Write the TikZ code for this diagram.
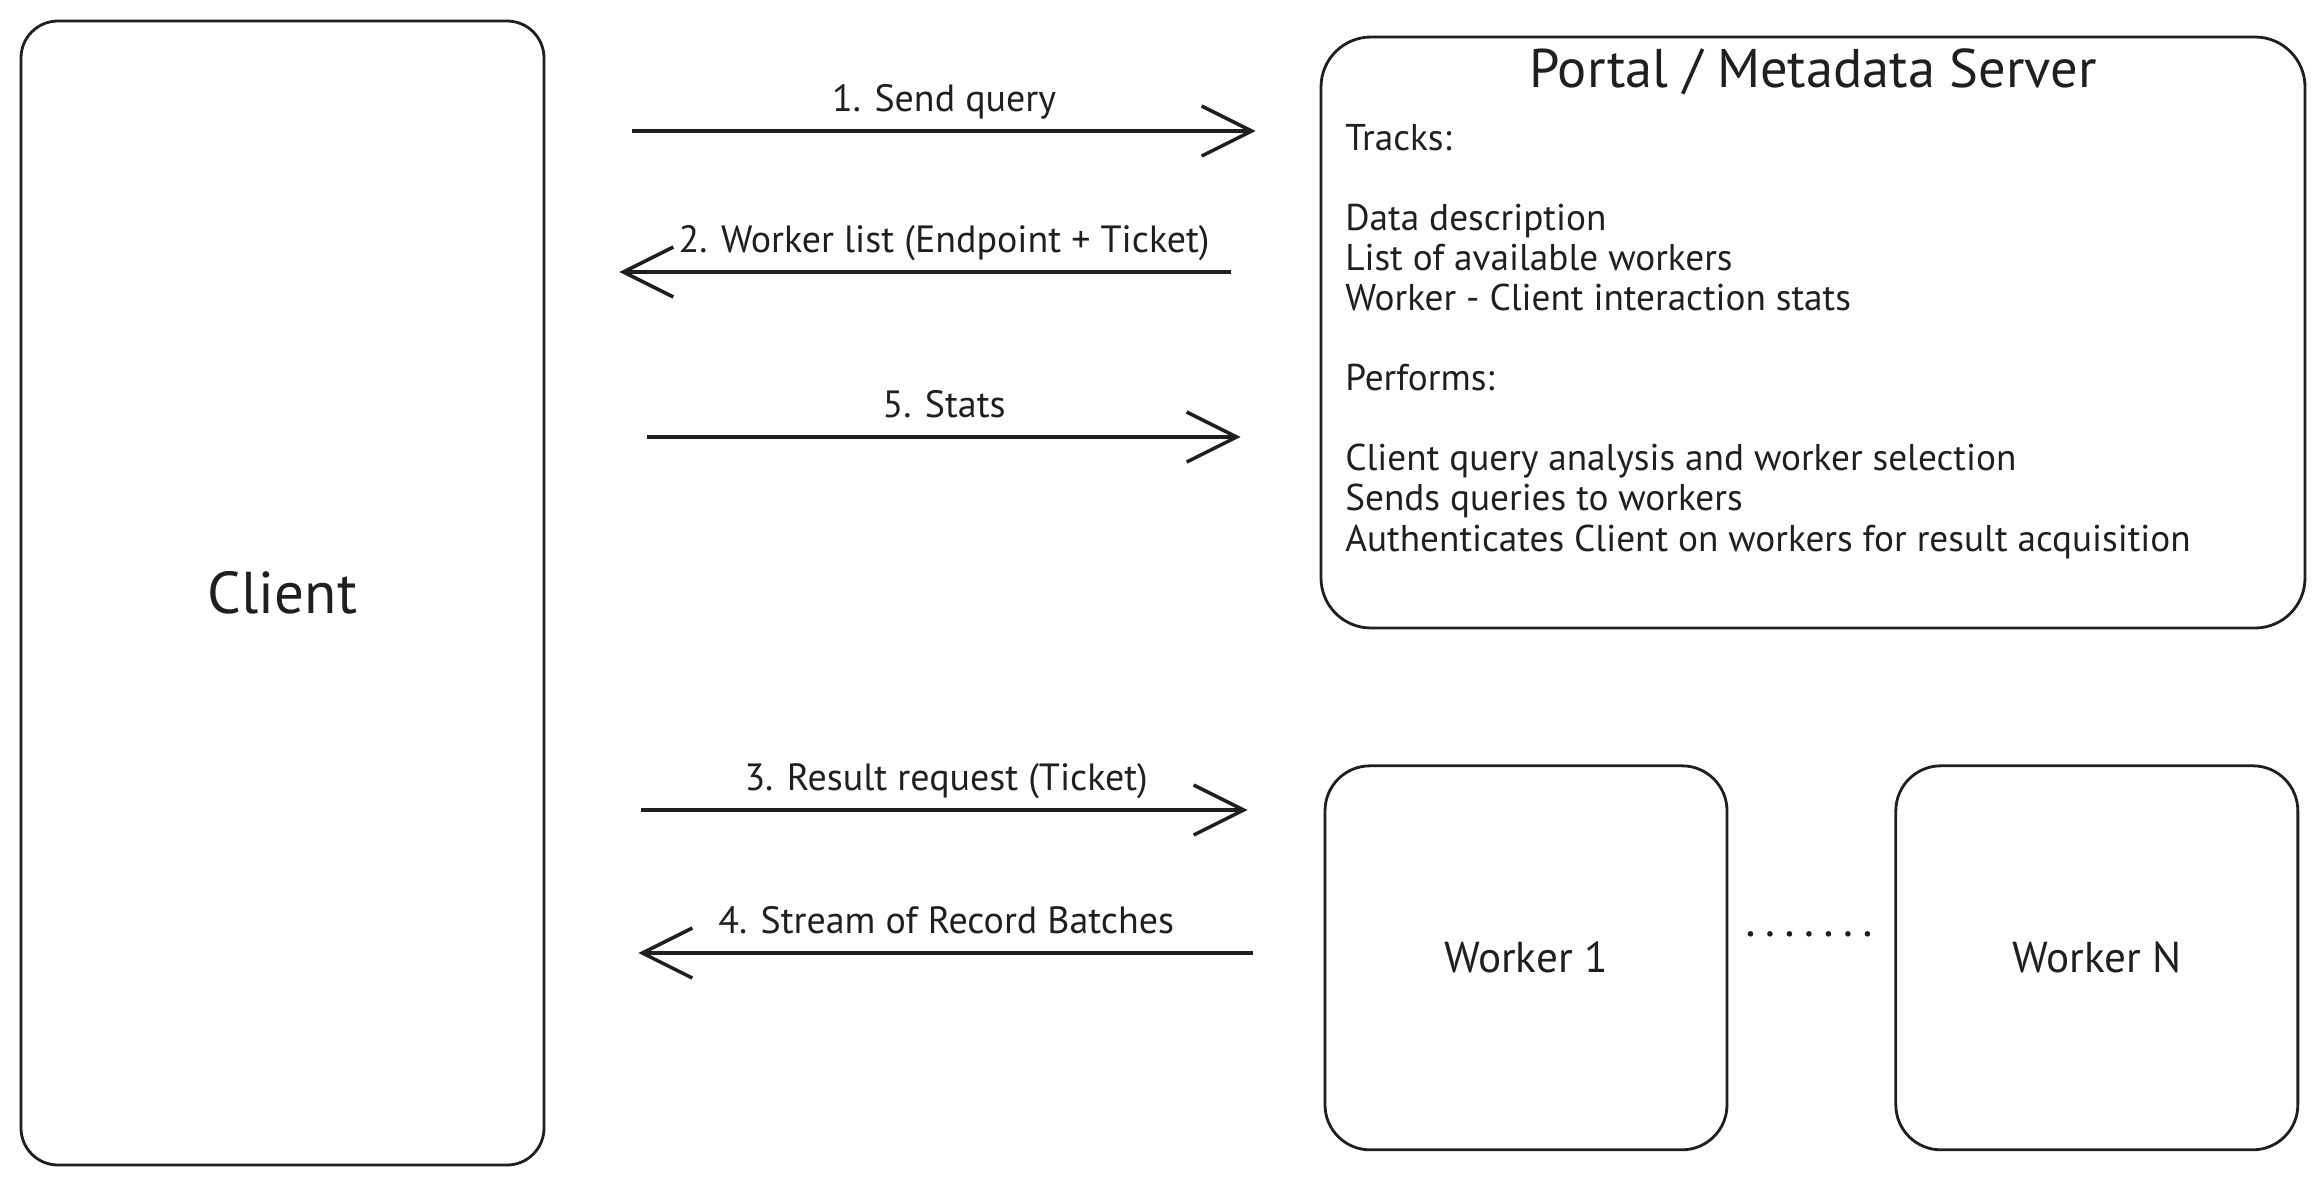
\documentclass[tikz,border=0pt]{standalone}
\usepackage{fontspec}
\setmainfont{PT Sans}
\usepackage{tikz}
\usetikzlibrary{arrows.meta,positioning}
\definecolor{ink}{rgb}{0.12,0.12,0.12}

\begin{document}
\begin{tikzpicture}[font=\fontsize{10.6}{11.4}\selectfont,>={Straight Barb[length=5mm,width=5mm]},
  box/.style={draw=ink,line width=0.8pt,rounded corners=4.5mm,inner sep=0pt,text=ink},
  link/.style={draw=ink,->,line width=1pt},
  lab/.style={text=ink,anchor=base,yshift=2mm,font=\fontsize{10.8}{13}\selectfont}]
\useasboundingbox (0,0) rectangle (23.24,-11.86);
\node[box,rounded corners=3.7mm,minimum width=52.3mm,minimum height=114.4mm,font=\fontsize{16.8}{20}\selectfont] (client) at (2.825,-5.93) {Client};
\node[box,rounded corners=5mm,minimum width=98.4mm,minimum height=59.1mm] (portal) at (18.13,-3.325) {};
\node[text=ink,font=\fontsize{15.5}{18}\selectfont] (title) at ([yshift=-3.6mm]portal.north) {Portal / Metadata Server};
\node[text=ink,anchor=north west,align=left,inner sep=0pt] (duties) at ([xshift=2.5mm,yshift=-8.8mm]portal.north west)
  {Tracks:\\[11.4pt]
   Data description\\
   List of available workers\\
   Worker - Client interaction stats\\[11.4pt]
   Performs:\\[11.4pt]
   Client query analysis and worker selection\\
   Sends queries to workers\\
   Authenticates Client on workers for result acquisition};
\node[box,minimum width=40.2mm,minimum height=38.4mm,font=\fontsize{12.3}{15}\selectfont,below right=13.5mm and 0.4mm of portal.south west] (worker1) {Worker 1};
\node[box,minimum width=40.2mm,minimum height=38.4mm,font=\fontsize{12.3}{15}\selectfont,right=16.6mm of worker1] (workerN) {Worker N};
\draw[ink,line width=1.6pt,line cap=round,dash pattern=on 0pt off 1.95mm] ([xshift=2.2mm,yshift=2.4mm]worker1.east) -- ([xshift=-2.6mm,yshift=2.4mm]workerN.west);
% message rows
\coordinate (r1) at (0,-1.31);
\coordinate (r2) at (0,-2.72);
\coordinate (r5) at (0,-4.37);
\coordinate (r3) at (0,-8.10);
\coordinate (r4) at (0,-9.53);
\draw[link,shorten <=8.7mm,shorten >=6.4mm] (client.east|-r1) -- node[lab,pos=0.515]{1. Send query} (portal.west|-r1);
\draw[link,shorten <=8.9mm,shorten >=7.4mm] (portal.west|-r2) -- node[lab,pos=0.485]{2. Worker list (Endpoint + Ticket)} (client.east|-r2);
\draw[link,shorten <=10.2mm,shorten >=7.9mm] (client.east|-r5) -- node[lab,pos=0.515]{5. Stats} (portal.west|-r5);
\draw[link,shorten <=9.6mm,shorten >=7.6mm] (client.east|-r3) -- node[lab,pos=0.515]{3. Result request (Ticket)} (worker1.west|-r3);
\draw[link,shorten <=7.1mm,shorten >=9.3mm] (worker1.west|-r4) -- node[lab,pos=0.485]{4. Stream of Record Batches} (client.east|-r4);
\end{tikzpicture}
\end{document}
